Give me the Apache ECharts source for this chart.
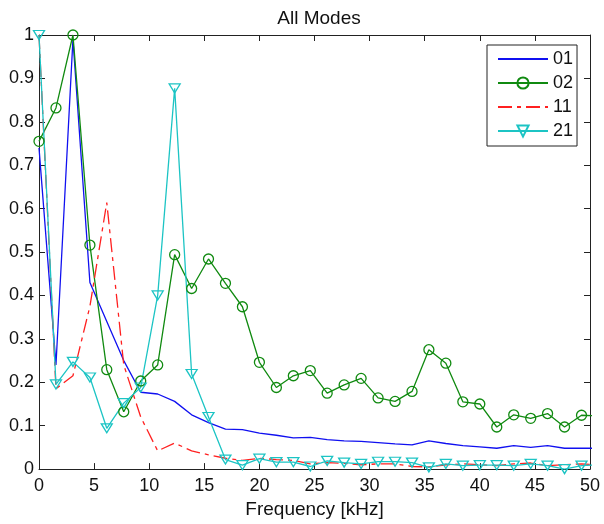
<!DOCTYPE html>
<html>
<head>
<meta charset="utf-8">
<script src="https://cdn.jsdelivr.net/npm/echarts@6/dist/echarts.min.js"></script>
<style>
html,body{margin:0;padding:0;background:#fff;}
#chart{width:604px;height:524px;}
</style>
</head>
<body>
<div id="chart"></div>
<script>
// Frequency [kHz]
var freq = [0, 1.54, 3.08, 4.62, 6.15, 7.69, 9.23, 10.77, 12.31, 13.85, 15.38, 16.92, 18.46, 20.0, 21.54, 23.08, 24.62, 26.15, 27.69, 29.23, 30.77, 32.31, 33.85, 35.38, 36.92, 38.46, 40.0, 41.54, 43.08, 44.62, 46.15, 47.69, 49.23, 50.77];
var mode01 = [0.74, 0.24, 0.99, 0.43, 0.34, 0.25, 0.177, 0.173, 0.156, 0.125, 0.107, 0.092, 0.091, 0.083, 0.078, 0.072, 0.073, 0.068, 0.065, 0.064, 0.061, 0.058, 0.056, 0.065, 0.059, 0.054, 0.051, 0.048, 0.054, 0.05, 0.054, 0.048, 0.048, 0.048];
var mode02 = [0.755, 0.832, 1.0, 0.516, 0.229, 0.132, 0.203, 0.24, 0.494, 0.416, 0.484, 0.428, 0.374, 0.246, 0.188, 0.215, 0.227, 0.175, 0.194, 0.209, 0.164, 0.156, 0.179, 0.275, 0.244, 0.155, 0.15, 0.097, 0.125, 0.117, 0.128, 0.097, 0.124, 0.123];
var mode11 = [1.0, 0.185, 0.215, 0.375, 0.614, 0.24, 0.12, 0.042, 0.06, 0.042, 0.033, 0.025, 0.02, 0.025, 0.022, 0.02, 0.012, 0.015, 0.013, 0.01, 0.012, 0.012, 0.006, 0.005, 0.01, 0.012, 0.01, 0.008, 0.012, 0.014, 0.008, 0.01, 0.012, 0.01];
var mode21 = [1.0, 0.195, 0.247, 0.211, 0.094, 0.152, 0.188, 0.40, 0.877, 0.219, 0.12, 0.022, 0.009, 0.024, 0.016, 0.016, 0.006, 0.019, 0.015, 0.012, 0.017, 0.017, 0.015, 0.004, 0.012, 0.008, 0.009, 0.009, 0.008, 0.012, 0.008, 0.0, 0.008, 0.01];
var seriesNames = ['01', '02', '11', '21'];
var xTicks = [0, 5, 10, 15, 20, 25, 30, 35, 40, 45, 50];
var yTicks = [0, 0.1, 0.2, 0.3, 0.4, 0.5, 0.6, 0.7, 0.8, 0.9, 1];

function pairs(ys) { return freq.map(function (f, i) { return [f, ys[i]]; }); }

var FONT = 'Liberation Sans, Arial, Helvetica, sans-serif';
var AX = '#222';
var chart = echarts.init(document.getElementById('chart'), null, {renderer: 'canvas'});

function xAxisDef(pos, showLabel) {
  return {
    type: 'value', position: pos,
    min: xTicks[0], max: xTicks[xTicks.length - 1], interval: xTicks[1] - xTicks[0],
    axisLine: {show: true, onZero: false, lineStyle: {color: AX, width: 1}},
    axisTick: {show: true, inside: true, length: 6, lineStyle: {color: AX, width: 1}},
    axisLabel: {show: showLabel, margin: 8, fontSize: 18, color: '#111', fontFamily: FONT},
    splitLine: {show: false},
    name: showLabel ? 'Frequency [kHz]' : '',
    nameLocation: 'middle', nameGap: 28,
    nameTextStyle: {fontSize: 19, color: '#111', fontFamily: FONT}
  };
}
function yAxisDef(pos, showLabel) {
  return {
    type: 'value', position: pos,
    min: yTicks[0], max: yTicks[yTicks.length - 1], interval: 0.1,
    axisLine: {show: true, onZero: false, lineStyle: {color: AX, width: 1}},
    axisTick: {show: true, inside: true, length: 6, lineStyle: {color: AX, width: 1}},
    axisLabel: {show: showLabel, margin: 5, fontSize: 18, color: '#111', fontFamily: FONT,
      formatter: function (v) { return String(Math.round(v * 10) / 10); }},
    splitLine: {show: false}
  };
}

var triDown = 'path://M0,0L10,0L5,8.66Z';
var noMark = {color: 'rgba(0,0,0,0)', borderColor: 'rgba(0,0,0,0)', borderWidth: 0, opacity: 0};

chart.setOption({
  animation: false,
  backgroundColor: '#fff',
  title: {
    text: 'All Modes', left: 314, top: 4, textAlign: 'center',
    textStyle: {fontSize: 19, fontWeight: 'normal', color: '#111', fontFamily: FONT}
  },
  grid: {left: 39, right: 14, top: 35, bottom: 53, containLabel: false},
  legend: {
    orient: 'vertical', left: 487, top: 45,
    backgroundColor: '#fff', borderColor: '#222', borderWidth: 1,
    padding: [5, 4, 6, 10], itemGap: 6, itemWidth: 50, itemHeight: 14,
    textStyle: {fontSize: 18, color: '#111', fontFamily: FONT},
    data: [
      {name: seriesNames[0], itemStyle: noMark},
      {name: seriesNames[1]},
      {name: seriesNames[2], itemStyle: noMark},
      {name: seriesNames[3]}
    ]
  },
  xAxis: [xAxisDef('bottom', true), xAxisDef('top', false)],
  yAxis: [yAxisDef('left', true), yAxisDef('right', false)],
  series: [
    {
      name: seriesNames[0], type: 'line', data: pairs(mode01),
      symbol: 'none', color: '#0000ff',
      lineStyle: {color: '#1010f0', width: 1.3}
    },
    {
      name: seriesNames[1], type: 'line', data: pairs(mode02),
      symbol: 'circle', symbolSize: 10, color: '#008000',
      itemStyle: {color: 'rgba(0,0,0,0)', borderColor: '#108a10', borderWidth: 1.3},
      lineStyle: {color: '#108a10', width: 1.3}
    },
    {
      name: seriesNames[2], type: 'line', data: pairs(mode11),
      symbol: 'none', color: '#ff0000',
      lineStyle: {color: '#ff2020', width: 1.3, type: [14, 5, 4, 5]}
    },
    {
      name: seriesNames[3], type: 'line', data: pairs(mode21),
      symbol: triDown, symbolSize: [11, 9], color: '#00bfbf',
      itemStyle: {color: 'rgba(0,0,0,0)', borderColor: '#1cc4c4', borderWidth: 1.3},
      lineStyle: {color: '#1cc4c4', width: 1.3}
    }
  ]
});
</script>
</body>
</html>
